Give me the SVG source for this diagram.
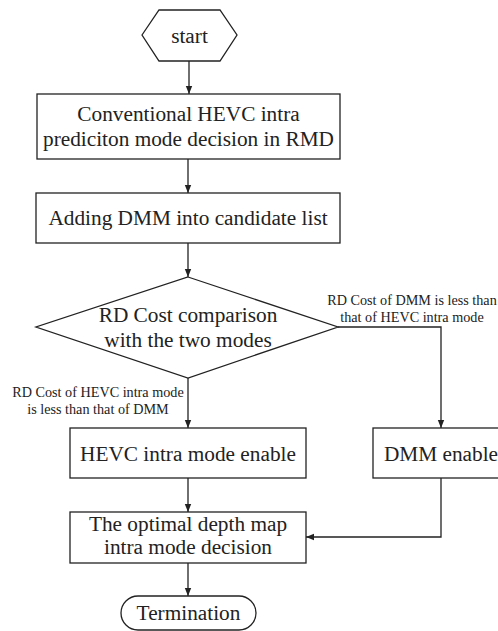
<svg xmlns="http://www.w3.org/2000/svg" width="498" height="631" viewBox="0 0 498 631">
<defs>
<marker id="ah" viewBox="0 0 10 10" refX="10" refY="5" markerWidth="8" markerHeight="8" markerUnits="userSpaceOnUse" orient="auto">
<path d="M0,1 L10,5 L0,9 z" fill="#222"/>
</marker>
<style>
.s{fill:#fff;stroke:#222;stroke-width:1.3}
.t{font-family:"Liberation Serif","Times New Roman",serif;font-size:21.3px;fill:#222;text-anchor:middle}
.l{font-family:"Liberation Serif","Times New Roman",serif;font-size:14.2px;fill:#222;text-anchor:middle}
.c{fill:none;stroke:#222;stroke-width:1.3;marker-end:url(#ah)}
</style>
</defs>
<rect width="498" height="631" fill="#fff"/>
<g id="connectors">
<line class="c" x1="189" y1="61" x2="189" y2="94"/>
<line class="c" x1="188" y1="159" x2="188" y2="193"/>
<line class="c" x1="188" y1="243" x2="188" y2="277"/>
<line class="c" x1="188" y1="378" x2="188" y2="428"/>
<polyline class="c" points="338,327 441,327 441,428"/>
<line class="c" x1="188" y1="478" x2="188" y2="512"/>
<polyline class="c" points="441,478 441,537 306,537"/>
<line class="c" x1="188" y1="563" x2="188" y2="596"/>
</g>
<g id="start">
<polygon class="s" points="142,35 159,10 220,10 237,35 220,61 159,61"/>
<text class="t" x="189.5" y="43">start</text>
</g>
<g id="rmd">
<rect class="s" x="37" y="94" width="303" height="65"/>
<text class="t" x="188.5" y="121">Conventional HEVC intra</text>
<text class="t" x="188.5" y="146">prediciton mode decision in RMD</text>
</g>
<g id="adddmm">
<rect class="s" x="36" y="193" width="304" height="50"/>
<text class="t" x="188" y="225">Adding DMM into candidate list</text>
</g>
<g id="compare">
<polygon class="s" points="188,277 338,327 188,378 36,327"/>
<text class="t" x="188" y="322">RD Cost comparison</text>
<text class="t" x="188" y="347">with the two modes</text>
</g>
<g id="label-dmm">
<text class="l" x="412" y="305">RD Cost of DMM is less than</text>
<text class="l" x="412" y="322">that of HEVC intra mode</text>
</g>
<g id="label-hevc">
<text class="l" x="98" y="397">RD Cost of HEVC intra mode</text>
<text class="l" x="98" y="414">is less than that of DMM</text>
</g>
<g id="hevc">
<rect class="s" x="70" y="428" width="236" height="50"/>
<text class="t" x="188" y="461">HEVC intra mode enable</text>
</g>
<g id="dmm">
<rect class="s" x="373" y="428" width="140" height="50"/>
<text class="t" x="441" y="461">DMM enable</text>
</g>
<g id="optimal">
<rect class="s" x="70" y="512" width="236" height="51"/>
<text class="t" x="188" y="531">The optimal depth map</text>
<text class="t" x="188" y="554">intra mode decision</text>
</g>
<g id="termination">
<rect class="s" x="121" y="596" width="135" height="34" rx="17" ry="17"/>
<text class="t" x="188.5" y="620">Termination</text>
</g>
</svg>
